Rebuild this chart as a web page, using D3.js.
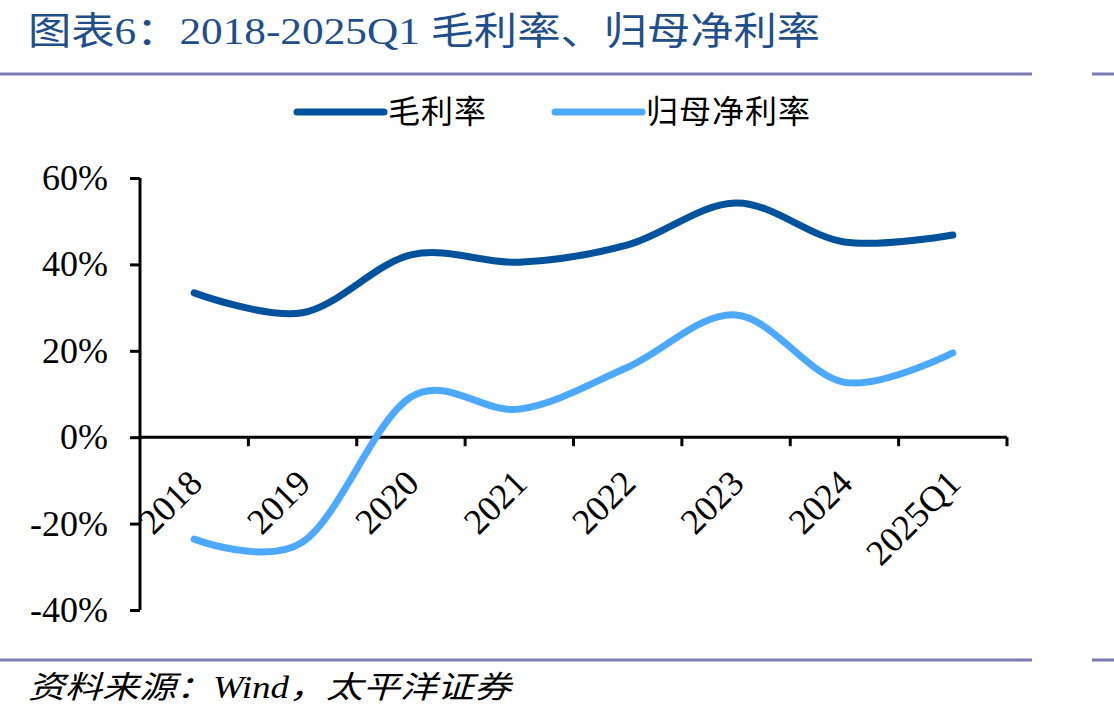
<!DOCTYPE html>
<html>
<head>
<meta charset="utf-8">
<script src="https://cdn.jsdelivr.net/npm/d3@7"></script>
<style>
  body { margin: 0; background: #fff; }
  svg { display: block; }
  text { font-family: "Liberation Serif", "Noto Sans CJK SC", serif; }
</style>
</head>
<body>
<div id="chart"></div>
<script>
// data
var categories = ["2018", "2019", "2020", "2021", "2022", "2023", "2024", "2025Q1"];
var grossMargin = [33.4, 28.8, 42.2, 40.5, 44.5, 54.2, 45.2, 46.8];
var netMargin = [-23.6, -24.3, 9.3, 6.5, 16.2, 28.3, 12.7, 19.5];
var yTicks = [-40, -20, 0, 20, 40, 60];
var seriesNames = ["毛利率", "归母净利率"];
var seriesColors = ["#00529c", "#4da9ff"];

var W = 1114, H = 719;
var margin = {top: 178, right: 107, bottom: 109, left: 140};

var svg = d3.select("#chart")
    .append("svg")
    .attr("width", W)
    .attr("height", H);

// title + rules
svg.append("text")
    .attr("x", 28)
    .attr("y", 44)
    .attr("font-family", "'Noto Sans CJK SC', 'Liberation Serif', serif")
    .attr("font-size", 38)
    .attr("fill", "#1f4e8c")
    .attr("textLength", 792)
    .attr("lengthAdjust", "spacingAndGlyphs")
    .text("图表6：2018-2025Q1 毛利率、归母净利率");

[74, 660].forEach(function(yy) {
    svg.append("line").attr("x1", 0).attr("x2", 1032).attr("y1", yy).attr("y2", yy)
        .attr("stroke", "#7b7bb5").attr("stroke-width", 3);
    svg.append("line").attr("x1", 1092).attr("x2", 1114).attr("y1", yy).attr("y2", yy)
        .attr("stroke", "#7b7bb5").attr("stroke-width", 3);
});

svg.append("text")
    .attr("x", 28)
    .attr("y", 698)
    .attr("font-family", "'Noto Sans CJK SC', 'Liberation Serif', serif")
    .attr("font-style", "italic")
    .attr("font-size", 31)
    .attr("fill", "#000")
    .attr("textLength", 483)
    .attr("lengthAdjust", "spacingAndGlyphs")
    .text("资料来源：Wind，太平洋证券");

// legend
var legendX = [297, 555];
seriesNames.forEach(function(name, i) {
    svg.append("line")
        .attr("x1", legendX[i]).attr("x2", legendX[i] + 87)
        .attr("y1", 112).attr("y2", 112)
        .attr("stroke", seriesColors[i])
        .attr("stroke-width", 7)
        .attr("stroke-linecap", "round");
    svg.append("text")
        .attr("x", legendX[i] + 91)
        .attr("y", 123)
        .attr("font-family", "'Noto Sans CJK SC', serif")
        .attr("font-size", 32)
        .attr("letter-spacing", 1)
        .attr("fill", "#000")
        .text(name);
});

// scales
var x = d3.scaleBand()
    .domain(categories)
    .range([margin.left, W - margin.right])
    .padding(0);
var y = d3.scaleLinear()
    .domain([-40, 60])
    .range([H - margin.bottom, margin.top]);
var cx = function(d) { return x(d) + x.bandwidth() / 2; };

// y axis
var yAxis = svg.append("g")
    .attr("transform", "translate(" + margin.left + ",0)")
    .call(d3.axisLeft(y).tickValues(yTicks).tickSize(10).tickPadding(22)
        .tickFormat(function(d) { return d + "%"; }));
yAxis.select(".domain").attr("stroke", "#000").attr("stroke-width", 3)
    .attr("d", "M0," + y(-40) + "V" + y(60));
yAxis.selectAll(".tick line").attr("stroke", "#000").attr("stroke-width", 3);
yAxis.selectAll(".tick text")
    .attr("font-family", "'Liberation Serif', serif")
    .attr("font-size", 36)
    .attr("fill", "#000");

// x axis on the 0% line
var xg = svg.append("g");
xg.append("line")
    .attr("x1", x.range()[0]).attr("x2", x.range()[1])
    .attr("y1", y(0)).attr("y2", y(0))
    .attr("stroke", "#000").attr("stroke-width", 3);
var tickPos = categories.slice(1).map(function(d) { return x(d); }).concat([x.range()[1]]);
xg.selectAll(".xtick")
    .data(tickPos)
    .enter()
    .append("line")
    .attr("class", "xtick")
    .attr("x1", function(d) { return d; }).attr("x2", function(d) { return d; })
    .attr("y1", y(0)).attr("y2", y(0) + 9)
    .attr("stroke", "#000").attr("stroke-width", 3);
xg.selectAll(".xlabel")
    .data(categories)
    .enter()
    .append("text")
    .attr("class", "xlabel")
    .attr("text-anchor", "end")
    .attr("font-family", "'Liberation Serif', serif")
    .attr("font-size", 36)
    .attr("fill", "#000")
    .attr("transform", function(d) {
        return "translate(" + (cx(d) + 10) + "," + (y(0) + 48) + ") rotate(-45)";
    })
    .text(function(d) { return d; });

// lines
var line = d3.line()
    .x(function(d, i) { return cx(categories[i]); })
    .y(function(d) { return y(d); })
    .curve(d3.curveCardinal.tension(0));

[grossMargin, netMargin].forEach(function(vals, i) {
    svg.append("path")
        .datum(vals)
        .attr("d", line)
        .attr("fill", "none")
        .attr("stroke", seriesColors[i])
        .attr("stroke-width", 7)
        .attr("stroke-linecap", "round")
        .attr("stroke-linejoin", "round");
});
</script>
</body>
</html>
